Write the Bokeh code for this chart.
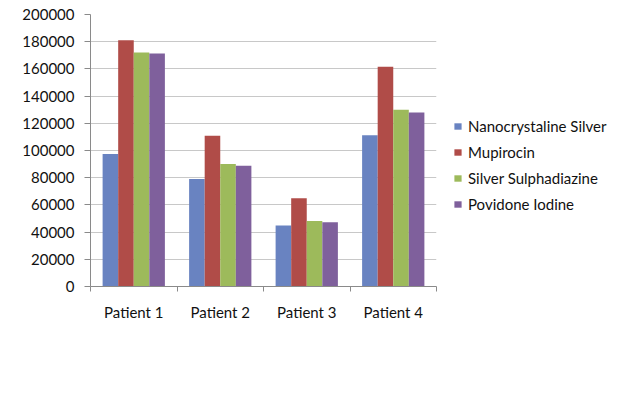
import numpy as np
from bokeh.plotting import figure
from bokeh.models import (Range1d, FixedTicker, Legend, LegendItem, ColumnDataSource)
from bokeh.embed import file_html
from bokeh.resources import INLINE

patients = ["Patient 1", "Patient 2", "Patient 3", "Patient 4"]
nano_silver = [97500, 79000, 44800, 111300]
mupirocin = [181000, 110800, 64800, 161600]
silver_sulph = [172000, 90000, 48100, 129900]
povidone = [171300, 88800, 47200, 128000]
series_names = ["Nanocrystaline Silver", "Mupirocin", "Silver Sulphadiazine", "Povidone Iodine"]
colors = ["#6983C1", "#B04C48", "#9DBA5B", "#7F609C"]
y_ticks = [0, 20000, 40000, 60000, 80000, 100000, 120000, 140000, 160000, 180000, 200000]

FONT = "Lato"
TXT = "#111111"
AX = "#8a8a8a"
FS = "15px"

n = len(patients)
centers = np.arange(n) + 0.5
series = [nano_silver, mupirocin, silver_sulph, povidone]

p = figure(frame_width=346, frame_height=272, x_range=Range1d(0, n), y_range=Range1d(0, 200000),
           output_backend="svg", toolbar_location=None,
           min_border_left=90, min_border_right=190, min_border_top=14, min_border_bottom=100)
p.outline_line_color = None
p.background_fill_color = "white"

bw = 0.18
offsets = [-1.5 * bw, -0.5 * bw, 0.5 * bw, 1.5 * bw]
items = []
for i, vals in enumerate(series):
    src = ColumnDataSource(dict(x=centers + offsets[i], top=vals))
    r = p.vbar(x="x", top="top", width=bw, source=src, fill_color=colors[i], line_color=None)
    items.append(LegendItem(label=series_names[i], renderers=[r]))

# y axis
ya = p.yaxis[0]
ya.ticker = FixedTicker(ticks=y_ticks)
ya.formatter.use_scientific = False
ya.axis_line_color = AX
ya.major_tick_line_color = AX
ya.major_tick_out = 6
ya.major_tick_in = 0
ya.minor_tick_line_color = None
ya.major_label_standoff = 10
ya.major_label_text_font = FONT
ya.major_label_text_font_size = FS
ya.major_label_text_color = TXT
p.ygrid.ticker = FixedTicker(ticks=y_ticks)
p.ygrid.grid_line_color = "#c8c8c8"
p.xgrid.grid_line_color = None

# x axis: labels at category centres, small ticks at category boundaries
xa = p.xaxis[0]
xa.ticker = FixedTicker(ticks=list(centers), minor_ticks=list(range(n + 1)))
xa.major_label_overrides = {float(c): lab for c, lab in zip(centers, patients)}
xa.axis_line_color = AX
xa.major_tick_line_color = None
xa.major_tick_out = 0
xa.major_tick_in = 0
xa.minor_tick_line_color = AX
xa.minor_tick_out = 5
xa.minor_tick_in = 0
xa.major_label_standoff = 11
xa.major_label_text_font = FONT
xa.major_label_text_font_size = FS
xa.major_label_text_color = TXT

legend = Legend(items=items, location=(17, 73), orientation="vertical")
legend.border_line_color = None
legend.background_fill_alpha = 0
legend.padding = 0
legend.margin = 0
legend.glyph_width = 9
legend.glyph_height = 8
legend.label_height = 16
legend.spacing = 8
legend.label_standoff = 6
legend.label_text_font = FONT
legend.label_text_font_size = FS
legend.label_text_color = TXT
p.add_layout(legend, "right")

open("out.html", "w").write(file_html(p, INLINE))
